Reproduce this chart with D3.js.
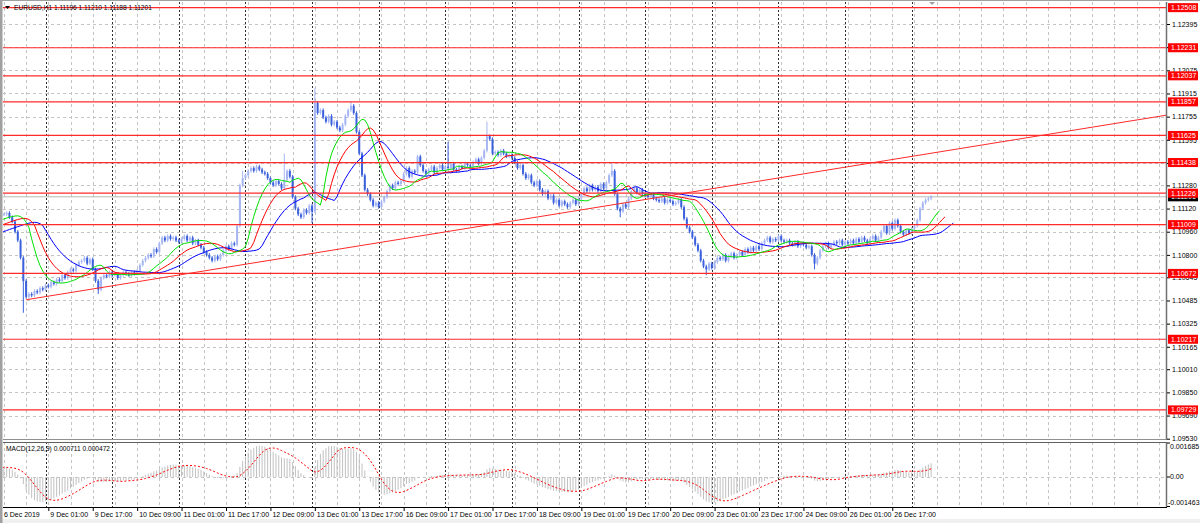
<!DOCTYPE html>
<html><head><meta charset="utf-8">
<script src="https://cdn.jsdelivr.net/npm/d3@7"></script>
<style>
html,body{margin:0;padding:0;background:#fff;}
svg{display:block;font-family:"Liberation Sans",Arial,sans-serif;}
</style>
</head><body>
<svg id="c" width="1200" height="523"></svg>
<script>
// ---------------- DATA ----------------
const symbolLabel = "EURUSD,H1";
const headerValues = ["1.11196", "1.11210", "1.11188", "1.11201"];
const basePrice = 1.1;            // closes are given in pips above this
// bars before the first visible one (they only feed the indicators)
const prehistoryPips = [84,86,85,88,87,90,89,92,91,93,95,94,96,98,97,99,101,100,102,104,103,105,104,106,107,105,108,107,109,108];
// hourly closes, 6 Dec 09:00 ... 27 Dec 07:00 (pips above 1.1000)
const closePips = [
108,109,106,103, 96,90,78,62, 51,53,52,55,54,57,56,59,
58,61,60,63,62,66,64,68,70,69,73,75, 76,78,74,77, 70,62,56,64,
66,65,68,66,67,64,66,68,67,66,68,67, 69,73,76,78,80,79,84,82,
88,92,90,93,91,92,90, 89,91,93,90,92,88,90,87, 85,82,80,78,76,79,77,
80,83,86,84,88,87, 100,128,133, 135,138,140,138,141,139,137,136,
133,130,128,131,129,126,132,138,134, 120,112,108,106,111,109,114,
110,185, 178,180,175,172,176,170,172,168,166,170, 176,180,183,178,
165,150,135,125,122, 118,114,116,113,117,120, 124,128,126,130,129,131,
136,140,134,138,137,148,142, 138,136,139,141,137,140,142,139,
141,140,143,139,138,141,140,143,142,141, 144,146,143,147, 152,162,160,150,
151,149,152,150,148,149, 147,144,140,142,136,133,135,130,
128,131,125,122,124,119,121, 116,118,114,117,115,113,116,118,115,119,
122,126,124,128,125,127,124,129,126,130, 135,138,122, 112,110,115,113,
119,124,126,123,125,122, 121,120,122,119,118,117,119,116,118,117,115,116,118,
113,105,99,96, 92,87,83,76, 72,70,74,71,75, 78,77,80,76,79,81,78,80,82,
80,84,82,85,83,86,84, 88,90,92,89,91,90,93,90, 89,90,88,87,89,86,88,87,85,86,
80,74,78, 83,86,88,85,87,89,88,90,87,89,88, 90,88,91,89,92,90,88,91,93,90,92,
96,100,95,102,98,104,100, 96,94,97,95,98,100, 104,112,116, 118,119,120.1
];
// visible wick extremes: [bar, high pips, low pips]
const wickExtremes = [[7,null,40],[34,null,53],[86,138,null],[101,150,null],[111,null,102],[112,195,null],
  [125,186,null],[160,158,null],[174,172,null],[219,143,null],[222,null,106],[253,null,66],[292,null,70]];
const levelPrices = [1.12508,1.12231,1.12037,1.11857,1.11625,1.11438,1.11226,1.11009,1.10672,1.10217,1.09729];
const priceTicks = [1.09530,1.09690,1.09850,1.10010,1.10165,1.10325,1.10485,1.10645,1.10800,1.10960,
  1.11120,1.11280,1.11435,1.11595,1.11755,1.11915,1.12075,1.12235,1.12395];
const bidPrice = 1.11201;
const trendAnchors = [[8,1.10490],[419,1.11766]];
const timeLabelBars = [0,16,32,48,64,80,96,112,128,144,160,176,192,208,224,240,256,272,288,304,320];
const timeLabelTexts = ["6 Dec 2019","9 Dec 01:00","9 Dec 17:00","10 Dec 09:00","11 Dec 01:00","11 Dec 17:00",
  "12 Dec 09:00","13 Dec 01:00","13 Dec 17:00","16 Dec 09:00","17 Dec 01:00","17 Dec 17:00","18 Dec 09:00",
  "19 Dec 01:00","19 Dec 17:00","20 Dec 09:00","23 Dec 01:00","23 Dec 17:00","24 Dec 09:00","26 Dec 01:00","26 Dec 17:00"];
const daySeparatorBars = [15,39,63,87,111,135,159,183,207,231,255,279,303,327];
const macdTickValues = [0.001685, 0, -0.001463];
const macdTickTexts = ["0.001685","0.00","-0.001463"];
const macdHeader = "MACD(12,26,9) 0.000711 0.000472";
const alligator = [{n:13,shift:8,color:"#0000ff"},{n:8,shift:5,color:"#ff0000"},{n:5,shift:3,color:"#00e000"}];

// ---------------- LAYOUT ----------------
const plotL = 3, plotR = 1166, mainT = 2, mainB = 439, macdT = 442, macdB = 507;
const svg = d3.select("#c");
const x = d3.scaleLinear().domain([0, 418.6]).range([3.9, plotR]);
const y = d3.scaleLinear().domain([1.09528, 1.12547]).range([mainB, mainT]);
const ym = d3.scaleLinear().domain([-0.001463, 0.001685]).range([506.5, 443]);

// frame
svg.append("rect").attr("x",0).attr("y",0).attr("width",1200).attr("height",523).attr("fill","#fff");
svg.append("rect").attr("x",0).attr("y",519).attr("width",1200).attr("height",4).attr("fill","#f0f0f0");
svg.append("rect").attr("x",0).attr("y",0).attr("width",2.5).attr("height",523).attr("fill","#a0a0a0");
svg.append("line").attr("x1",0).attr("x2",1200).attr("y1",0.5).attr("y2",0.5).attr("stroke","#a0a0a0");

const defs = svg.append("defs");
defs.append("clipPath").attr("id","clipMain").append("rect").attr("x",plotL).attr("y",mainT).attr("width",plotR-plotL).attr("height",mainB-mainT);
defs.append("clipPath").attr("id","clipMacd").append("rect").attr("x",plotL).attr("y",macdT).attr("width",plotR-plotL).attr("height",macdB-macdT);

// ---------------- SERIES ----------------
const pre = prehistoryPips.length;
const allPips = prehistoryPips.concat(closePips);
const bars = allPips.map((p,k) => {
  const c = basePrice + p/1e4;
  const o = k>0 ? basePrice + allPips[k-1]/1e4 : c;
  return {i:k-pre, o, c, h:Math.max(o,c)+0.00012, l:Math.min(o,c)-0.00012};
});
wickExtremes.forEach(([b,hi,lo]) => {
  const bar = bars[b+pre];
  if (hi!=null) bar.h = basePrice + hi/1e4;
  if (lo!=null) bar.l = basePrice + lo/1e4;
});

// ---------------- GRID ----------------
const grid = svg.append("g");
const gridBars = d3.range(0, 419, 8);
[[mainT,mainB],[macdT,macdB]].forEach(([t,b]) => {
  grid.selectAll(null).data(gridBars).enter().append("line")
    .attr("x1",d=>Math.round(x(d))+0.5).attr("x2",d=>Math.round(x(d))+0.5)
    .attr("y1",t).attr("y2",b).attr("stroke","#c4c4c4").attr("stroke-dasharray","3,3");
});
grid.selectAll(null).data(priceTicks).enter().append("line")
  .attr("x1",plotL).attr("x2",plotR).attr("y1",d=>Math.round(y(d))+0.5).attr("y2",d=>Math.round(y(d))+0.5)
  .attr("stroke","#c4c4c4").attr("stroke-dasharray","3,3");
grid.append("line").attr("x1",plotL).attr("x2",plotR).attr("y1",Math.round(ym(0))+0.5).attr("y2",Math.round(ym(0))+0.5)
  .attr("stroke","#c4c4c4").attr("stroke-dasharray","3,3");
[[mainT,mainB],[macdT,macdB]].forEach(([t,b]) => {
  grid.selectAll(null).data(daySeparatorBars).enter().append("line")
    .attr("x1",d=>Math.round(x(d))+0.5).attr("x2",d=>Math.round(x(d))+0.5)
    .attr("y1",t).attr("y2",b).attr("stroke","#303030").attr("stroke-dasharray","2,2");
});

// ---------------- MAIN CHART ----------------
const main = svg.append("g").attr("clip-path","url(#clipMain)");
// bid line
main.append("line").attr("x1",plotL).attr("x2",plotR).attr("y1",y(bidPrice)).attr("y2",y(bidPrice)).attr("stroke","#b8b8b8");
// candles
const bull = "#a6b6f2", bear = "#3c61dc";
const vis = bars.filter(d=>d.i>=0);
main.selectAll(null).data(vis).enter().append("line")
  .attr("x1",d=>x(d.i)).attr("x2",d=>x(d.i)).attr("y1",d=>y(d.h)).attr("y2",d=>y(d.l))
  .attr("stroke",d=>d.c>=d.o?bull:bear).attr("stroke-width",1);
main.selectAll(null).data(vis).enter().append("rect")
  .attr("x",d=>x(d.i)-1).attr("width",2)
  .attr("y",d=>y(Math.max(d.o,d.c)))
  .attr("height",d=>Math.max(1,y(Math.min(d.o,d.c))-y(Math.max(d.o,d.c))))
  .attr("fill",d=>d.c>=d.o?bull:bear);

// alligator
function smma(vals,n){
  const out = new Array(vals.length).fill(null); let s=0;
  for(let k=0;k<vals.length;k++){
    if(k<n-1){s+=vals[k];continue;}
    if(k===n-1){s+=vals[k]; out[k]=s/n;}
    else out[k]=(out[k-1]*(n-1)+vals[k])/n;
  }
  return out;
}
const median = bars.map(d=>(d.h+d.l)/2);
alligator.forEach(a => {
  const v = smma(median,a.n);
  const pts = v.map((val,k)=>({i:k-pre+a.shift, v:val})).filter(d=>d.v!=null);
  main.append("path").datum(pts)
    .attr("d", d3.line().x(d=>x(d.i)).y(d=>y(d.v)))
    .attr("fill","none").attr("stroke",a.color).attr("stroke-width",1);
});

// horizontal levels & trend line
main.selectAll(null).data(levelPrices).enter().append("line")
  .attr("x1",plotL).attr("x2",plotR).attr("y1",d=>y(d)).attr("y2",d=>y(d))
  .attr("stroke","#ff2a2a").attr("stroke-width",1.2);
main.append("line")
  .attr("x1",x(trendAnchors[0][0])).attr("y1",y(trendAnchors[0][1]))
  .attr("x2",x(trendAnchors[1][0])).attr("y2",y(trendAnchors[1][1]))
  .attr("stroke","#ff2a2a").attr("stroke-width",1);

// ---------------- MACD ----------------
function ema(vals,n){const a=2/(n+1);const out=[vals[0]];for(let k=1;k<vals.length;k++)out[k]=a*vals[k]+(1-a)*out[k-1];return out;}
const closes = bars.map(d=>d.c);
const e12 = ema(closes,12), e26 = ema(closes,26);
const macd = closes.map((_,k)=>e12[k]-e26[k]);
const signal = macd.map((_,k)=>k<8?null:d3.mean(macd.slice(k-8,k+1)));
const mg = svg.append("g").attr("clip-path","url(#clipMacd)");
mg.selectAll(null).data(bars.filter(d=>d.i>=0)).enter().append("line")
  .attr("x1",d=>x(d.i)).attr("x2",d=>x(d.i))
  .attr("y1",ym(0)).attr("y2",d=>ym(macd[d.i+pre]))
  .attr("stroke","#c0c0c0").attr("stroke-width",1);
const sigPts = signal.map((v,k)=>({i:k-pre,v})).filter(d=>d.v!=null);
mg.append("path").datum(sigPts).attr("d",d3.line().x(d=>x(d.i)).y(d=>ym(d.v)))
  .attr("fill","none").attr("stroke","#ff0000").attr("stroke-width",1).attr("stroke-dasharray","2,2");

// ---------------- BORDERS / AXES ----------------
const fs = 7;
svg.append("line").attr("x1",plotL).attr("x2",plotR+1).attr("y1",mainB+0.5).attr("y2",mainB+0.5).attr("stroke","#909090");
svg.append("line").attr("x1",plotL).attr("x2",plotR+1).attr("y1",macdT+0.5).attr("y2",macdT+0.5).attr("stroke","#606060");
svg.append("line").attr("x1",plotR+0.5).attr("x2",plotR+0.5).attr("y1",mainT).attr("y2",mainB+0.5).attr("stroke","#707070").attr("stroke-width",1.5);
svg.append("line").attr("x1",plotR+0.5).attr("x2",plotR+0.5).attr("y1",macdT).attr("y2",macdB+0.5).attr("stroke","#707070").attr("stroke-width",1.5);

// price axis
const yAx = svg.append("g").attr("transform",`translate(${plotR+1},0)`)
  .call(d3.axisRight(y).tickValues(priceTicks).tickFormat(d3.format(".5f")).tickSize(3).tickSizeOuter(0).tickPadding(2));
yAx.select(".domain").remove();
yAx.selectAll("text").attr("font-size",fs).attr("font-family","Liberation Sans, Arial, sans-serif").attr("fill","#000");
yAx.selectAll("line").attr("stroke","#000");

// bid box then level boxes
function priceBox(p, fill){
  const g = svg.append("g");
  g.append("rect").attr("x",plotR+2).attr("y",y(p)-4.5).attr("width",30).attr("height",9).attr("fill",fill);
  g.append("text").attr("x",plotR+5).attr("y",y(p)).attr("dy","0.34em").attr("font-size",fs)
    .attr("fill","#fff").text(d3.format(".5f")(p));
}
priceBox(bidPrice,"#000");
levelPrices.forEach(p=>priceBox(p,"#ff0000"));

// MACD axis
const macdTickG = svg.append("g");
macdTickValues.forEach((v,k)=>{
  const yy = Math.max(447, Math.min(503, ym(v)));
  macdTickG.append("line").attr("x1",plotR+1).attr("x2",plotR+4).attr("y1",ym(v)).attr("y2",ym(v)).attr("stroke","#000");
  macdTickG.append("text").attr("x",macdTickTexts[k].startsWith("-")?plotR+2:plotR+4).attr("y",yy).attr("dy","0.34em")
    .attr("font-size",fs).attr("fill","#000").text(macdTickTexts[k]);
});

// time axis
svg.append("line").attr("x1",plotL).attr("x2",plotR+1).attr("y1",macdB+0.5).attr("y2",macdB+0.5).attr("stroke","#000");
const xAx = svg.append("g").attr("transform",`translate(0,${macdB})`)
  .call(d3.axisBottom(x).tickValues(timeLabelBars).tickFormat((d,k)=>timeLabelTexts[k]).tickSize(4).tickSizeOuter(0));
xAx.select(".domain").remove();
xAx.selectAll("line").attr("stroke","#000").filter(d=>d===0).remove();
xAx.selectAll("text").attr("text-anchor","start").attr("x",d=>d===0?-0.5:1.5).attr("y",5).attr("dy","0.71em")
  .attr("font-size",fs).attr("font-family","Liberation Sans, Arial, sans-serif").attr("fill","#000");

// headers
svg.append("path").attr("d","M5,6 L10,6 L7.5,9 Z").attr("fill","#000");
svg.append("text").attr("x",14).attr("y",10).attr("font-size",6.6).attr("fill","#000")
  .text(symbolLabel + "  " + headerValues.join(" "));
svg.append("text").attr("x",6).attr("y",451).attr("font-size",6.6).attr("fill","#000").text(macdHeader);
// chart shift marker
svg.append("path").attr("d",`M${x(334)-2},2 L${x(334)+4},2 L${x(334)+1},5 Z`).attr("fill","#a0a0a0");
</script>
</body></html>
